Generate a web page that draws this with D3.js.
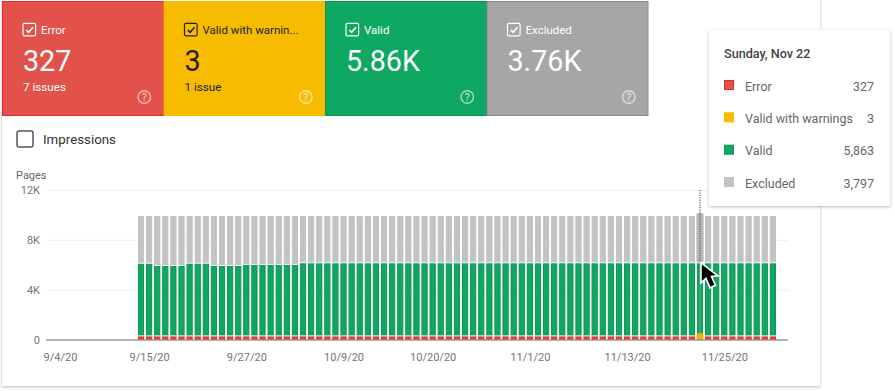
<!DOCTYPE html>
<html>
<head>
<meta charset="utf-8">
<script src="https://cdn.jsdelivr.net/npm/d3@7"></script>
<style>
  html, body { margin: 0; padding: 0; background: #fff; }
  svg { display: block; font-family: Roboto, sans-serif; }
</style>
</head>
<body>
<div id="chart"></div>
<script>
const seriesNames = ["Error", "Valid with warnings", "Valid", "Excluded"];
const cardTitles = ["Error", "Valid with warnin...", "Valid", "Excluded"];
const cardValues = ["327", "3", "5.86K", "3.76K"];
const cardIssues = ["7 issues", "1 issue", "", ""];
const tooltipTitle = "Sunday, Nov 22";
const tooltipValues = ["327", "3", "5,863", "3,797"];
const yTicks = [0, 4000, 8000, 12000];
const yTickLabels = ["0", "4K", "8K", "12K"];
const xTickDates = ["2020-09-04", "2020-09-15", "2020-09-27", "2020-10-09", "2020-10-20", "2020-11-01", "2020-11-13", "2020-11-25"];
const xTickLabels = ["9/4/20", "9/15/20", "9/27/20", "10/9/20", "10/20/20", "11/1/20", "11/13/20", "11/25/20"];
const firstDay = "2020-09-14";
const hoverDay = "2020-11-22";

const errorValues = [
  327,327,327,327,327,327,327,327,327,327,327,327,327,327,327,327,327,327,327,327,
  327,327,327,327,327,327,327,327,327,327,327,327,327,327,327,327,327,327,327,327,
  327,327,327,327,327,327,327,327,327,327,327,327,327,327,327,327,327,327,327,327,
  327,327,327,327,327,327,327,327,327,327,327,327,327,327,327,327,327,327,327
];
const warningValues = [
  3,3,3,3,3,3,3,3,3,3,3,3,3,3,3,3,3,3,3,3,
  3,3,3,3,3,3,3,3,3,3,3,3,3,3,3,3,3,3,3,3,
  3,3,3,3,3,3,3,3,3,3,3,3,3,3,3,3,3,3,3,3,
  3,3,3,3,3,3,3,3,3,3,3,3,3,3,3,3,3,3,3
];
const validValues = [
  5830,5830,5650,5650,5650,5650,5830,5830,5830,5650,5650,5650,5650,5740,5740,5740,5740,5740,5740,5740,
  5863,5863,5863,5863,5863,5863,5863,5863,5863,5863,5863,5863,5863,5863,5863,5863,5863,5863,5863,5863,
  5863,5863,5863,5863,5863,5863,5863,5863,5863,5863,5863,5863,5863,5863,5863,5863,5863,5863,5863,5863,
  5863,5863,5863,5863,5863,5863,5863,5863,5863,5863,5863,5863,5863,5863,5863,5863,5863,5863,5863
];
const excludedValues = [
  3830,3830,4010,4010,4010,4010,3830,3830,3830,4010,4010,4010,4010,3920,3920,3920,3920,3920,3920,3920,
  3797,3797,3797,3797,3797,3797,3797,3797,3797,3797,3797,3797,3797,3797,3797,3797,3797,3797,3797,3797,
  3797,3797,3797,3797,3797,3797,3797,3797,3797,3797,3797,3797,3797,3797,3797,3797,3797,3797,3797,3797,
  3797,3797,3797,3797,3797,3797,3797,3797,3797,3797,3797,3797,3797,3797,3797,3797,3797,3797,3797
];

const cardFill = ["#e2514a", "#f7bc00", "#0fa863", "#a6a6a6"];
const cardEdge = ["#e2283a", "#f7bc00", "#0b9150", "#8c8c8c"];
const cardInk = ["#fff", "#202020", "#fff", "#fff"];
const barFill = ["#e4524a", "#f7bc00", "#0fa863", "#c3c3c3"];
const barEdge = ["#dc2f2f", "#f7bc00", "#0c9554", "#c3c3c3"];

const width = 895, height = 391;
const parseDay = d3.utcParse("%Y-%m-%d");

const svg = d3.select("#chart").append("svg")
  .attr("width", width)
  .attr("height", height);

const defs = svg.append("defs");
const blur = defs.append("filter").attr("id", "shadow")
  .attr("x", "-10%").attr("y", "-10%").attr("width", "120%").attr("height", "120%");
blur.append("feDropShadow")
  .attr("dx", 0).attr("dy", 1).attr("stdDeviation", 1.6)
  .attr("flood-color", "#000").attr("flood-opacity", 0.28);

// outer white panel
svg.append("rect")
  .attr("x", 2).attr("y", -4).attr("width", 818).attr("height", 390)
  .attr("fill", "#fff").attr("filter", "url(#shadow)");

// status cards
const cardX = d3.scaleBand().domain(d3.range(4)).range([2, 648]);
const card = svg.selectAll(".card").data(cardTitles).enter().append("g")
  .attr("class", "card")
  .attr("transform", (d, i) => "translate(" + cardX(i) + ",1)");

card.append("rect")
  .attr("x", 0.5).attr("y", 0.5)
  .attr("width", cardX.bandwidth() - (0.5)).attr("height", 114)
  .attr("fill", (d, i) => cardFill[i])
  .attr("stroke", (d, i) => cardEdge[i]);

card.append("rect")
  .attr("x", 21).attr("y", 22.3).attr("width", 12.6).attr("height", 12.6).attr("rx", 1.5)
  .attr("fill", "none")
  .attr("stroke", (d, i) => cardInk[i]).attr("stroke-width", 1.2);

card.append("path")
  .attr("d", "M24.3 29l2.3 2.3 4.4-5")
  .attr("fill", "none")
  .attr("stroke", (d, i) => cardInk[i]).attr("stroke-width", 1.5);

card.append("text")
  .attr("x", 39).attr("y", 32.5)
  .attr("font-size", 11.5)
  .attr("fill", (d, i) => cardInk[i])
  .text(d => d);

card.append("text")
  .attr("x", 21).attr("y", 69.5)
  .attr("font-size", 28.7)
  .attr("fill", (d, i) => cardInk[i])
  .text((d, i) => cardValues[i]);

card.append("text")
  .attr("x", 21).attr("y", 89.5)
  .attr("font-size", 11.7)
  .attr("fill", (d, i) => cardInk[i])
  .text((d, i) => cardIssues[i]);

card.append("circle")
  .attr("cx", 142.3).attr("cy", 96).attr("r", 6.2)
  .attr("fill", "none").attr("stroke", "#fff").attr("stroke-opacity", 0.6).attr("stroke-width", 1.4);

card.append("text")
  .attr("x", 142.3).attr("y", 100)
  .attr("text-anchor", "middle")
  .attr("font-size", 10.5).attr("font-weight", 500)
  .attr("fill", "#fff").attr("fill-opacity", 0.65)
  .text("?");

// impressions toggle
svg.append("rect")
  .attr("x", 17).attr("y", 131).attr("width", 16).attr("height", 16).attr("rx", 2)
  .attr("fill", "#fff").attr("stroke", "#555").attr("stroke-width", 1.5);
svg.append("text")
  .attr("x", 43).attr("y", 143.5)
  .attr("font-size", 13.3).attr("fill", "#333")
  .text("Impressions");

// scales
const plotLeft = 46, plotRight = 788;
const x = d3.scaleUtc()
  .domain([parseDay(xTickDates[0]), parseDay(xTickDates[7])])
  .range([60, 724.3]);
const y = d3.scaleLinear().domain([0, 12000]).range([339.5, 190]);

const days = d3.utcDay.range(parseDay(firstDay), d3.utcDay.offset(parseDay(firstDay), validValues.length));
const table = days.map((d, i) => ({
  date: d,
  "Error": errorValues[i],
  "Valid with warnings": warningValues[i],
  "Valid": validValues[i],
  "Excluded": excludedValues[i]
}));
const layers = d3.stack().keys(seriesNames)(table);

const barW = 6.2;

// axes
const yAxis = d3.axisLeft(y)
  .tickValues(yTicks)
  .tickFormat((d, i) => yTickLabels[i])
  .tickSize(0)
  .tickPadding(6);
const gy = svg.append("g").attr("transform", "translate(" + plotLeft + ",0)").call(yAxis);
gy.select(".domain").remove();
gy.selectAll("text").attr("font-size", 11).attr("font-family", "Roboto, sans-serif").attr("fill", "#757575");
gy.selectAll(".tick").append("line")
  .attr("x1", 0).attr("x2", plotRight - plotLeft)
  .attr("stroke", d => d == 0 ? "#666" : "#eee")
  .attr("stroke-width", 1);

const xAxis = d3.axisBottom(x)
  .tickValues(xTickDates.map(parseDay))
  .tickFormat((d, i) => xTickLabels[i])
  .tickSize(0)
  .tickPadding(0);
const gx = svg.append("g").attr("transform", "translate(0,356.5)").call(xAxis);
gx.select(".domain").remove();
gx.selectAll("text").attr("font-size", 11).attr("font-family", "Roboto, sans-serif").attr("fill", "#757575").attr("dy", "0.4em");

svg.append("text")
  .attr("x", 16).attr("y", 179)
  .attr("font-size", 11).attr("fill", "#666")
  .text("Pages");

// stacked bars
const layer = svg.selectAll(".layer").data(layers).enter().append("g").attr("class", "layer");

layer.filter(d => d.key != "Valid with warnings").selectAll("rect")
  .data(d => d.map(p => Object.assign(p, { key: d.key, idx: d.index })))
  .enter().append("rect")
  .attr("x", d => x(d.data.date) - barW / 2 + 0.5)
  .attr("width", barW - 1)
  .attr("y", d => y(d[1]) + 1.5)
  .attr("height", d => Math.max(0, y(d[0]) - y(d[1]) - 2))
  .attr("fill", d => barFill[d.idx])
  .attr("stroke", d => barEdge[d.idx])
  .attr("stroke-width", 1);

// hovered day: raised grey bar, warning dot, dotted guide
const hoverIdx = table.findIndex(d => +d.date == +parseDay(hoverDay));
const hoverX = x(table[hoverIdx].date);
const hoverTop = y(layers[3][hoverIdx][1]);
const hoverMid = y(layers[2][hoverIdx][1]);

svg.append("rect")
  .attr("x", hoverX - barW / 2 - 0.5)
  .attr("width", barW + 1)
  .attr("y", hoverTop - 2)
  .attr("height", hoverMid - hoverTop + 2)
  .attr("rx", 2)
  .attr("fill", "#b7b7b7");

svg.append("line")
  .attr("x1", hoverX).attr("x2", hoverX)
  .attr("y1", y(12000)).attr("y2", hoverMid)
  .attr("stroke", "#444")
  .attr("stroke-dasharray", "1.2,1.2");

svg.append("line")
  .attr("x1", hoverX).attr("x2", hoverX)
  .attr("y1", hoverMid).attr("y2", y(0))
  .attr("stroke", "#d58aa0")
  .attr("stroke-dasharray", "1.2,1.2");

svg.append("rect")
  .attr("x", hoverX - 3.5).attr("width", 7)
  .attr("y", y(0) - 6.5).attr("height", 6.5).attr("rx", 3)
  .attr("fill", "#f5b400");

// mouse pointer
svg.append("path")
  .attr("transform", "translate(" + hoverX + "," + (hoverMid + 0.5) + ")")
  .attr("d", "M1 0L1 20L6 15.5L10 25L15.5 22.5L11.5 13.5L18 13Z")
  .attr("fill", "#000")
  .attr("stroke", "#fff")
  .attr("stroke-width", 1.6);

// tooltip
svg.append("rect")
  .attr("x", 709).attr("y", 30).attr("width", 181).attr("height", 176)
  .attr("fill", "#fff").attr("filter", "url(#shadow)");

svg.append("text")
  .attr("x", 724).attr("y", 58)
  .attr("font-size", 12.6).attr("font-weight", 500).attr("fill", "#444")
  .text(tooltipTitle);

const rowY = d3.scalePoint().domain(seriesNames).range([86, 183]);
const row = svg.selectAll(".row").data(seriesNames).enter().append("g")
  .attr("class", "row")
  .attr("transform", d => "translate(0," + rowY(d) + ")");

row.append("rect")
  .attr("x", 724.5).attr("y", -5.5).attr("width", 9).attr("height", 9)
  .attr("fill", (d, i) => barFill[i])
  .attr("stroke", (d, i) => barEdge[i]);

row.append("text")
  .attr("x", 745).attr("y", 4.5)
  .attr("font-size", 12.5).attr("fill", "#666")
  .text(d => d);

row.append("text")
  .attr("x", 874).attr("y", 4.5)
  .attr("text-anchor", "end")
  .attr("font-size", 12.5).attr("fill", "#666")
  .text((d, i) => tooltipValues[i]);
</script>
</body>
</html>
